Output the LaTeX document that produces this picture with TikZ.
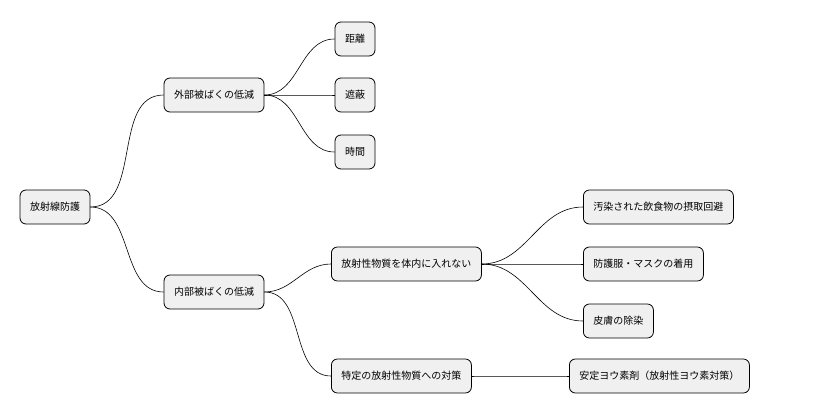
\documentclass[tikz,border=0pt]{standalone}
\usepackage{fontspec}
\setmainfont{Noto Sans CJK JP}
\begin{document}
\begin{tikzpicture}[x=1pt,y=-1pt]
\tikzset{topic/.style={draw=black,fill=black!6,rounded corners=6pt,minimum height=34pt,inner xsep=10pt,font=\fontsize{10}{12}\selectfont,line width=0.8pt},
link/.style={black,line width=0.6pt}}
\useasboundingbox (0,0) rectangle (824,415);
\node [topic] (root) at (55,207) {放射線防護};
\node [topic] (ext) at (214,95) {外部被ばくの低減};
\node [topic] (dist) at (355,39) {距離};
\node [topic] (shield) at (355,95) {遮蔽};
\node [topic] (time) at (355,152) {時間};
\node [topic] (int) at (214,292) {内部被ばくの低減};
\node [topic, anchor=west] (intake) at (331,264) {放射性物質を体内に入れない};
\node [topic, anchor=west] (special) at (331,376) {特定の放射性物質への対策};
\node [topic, anchor=west] (food) at (583,207) {汚染された飲食物の摂取回避};
\node [topic, anchor=west] (mask) at (583,264) {防護服・マスクの着用};
\node [topic, anchor=west] (skin) at (583,321) {皮膚の除染};
\node [topic, anchor=west] (iodine) at (569,376) {安定ヨウ素剤（放射性ヨウ素対策）};
% connectors
\foreach \a/\b in {root/ext,root/int,ext/dist,ext/shield,ext/time,int/intake,int/special,intake/food,intake/mask,intake/skin,special/iodine}
  \draw [link] (\a.east) to[out=0,in=180] (\b.west);
\end{tikzpicture}
\end{document}
